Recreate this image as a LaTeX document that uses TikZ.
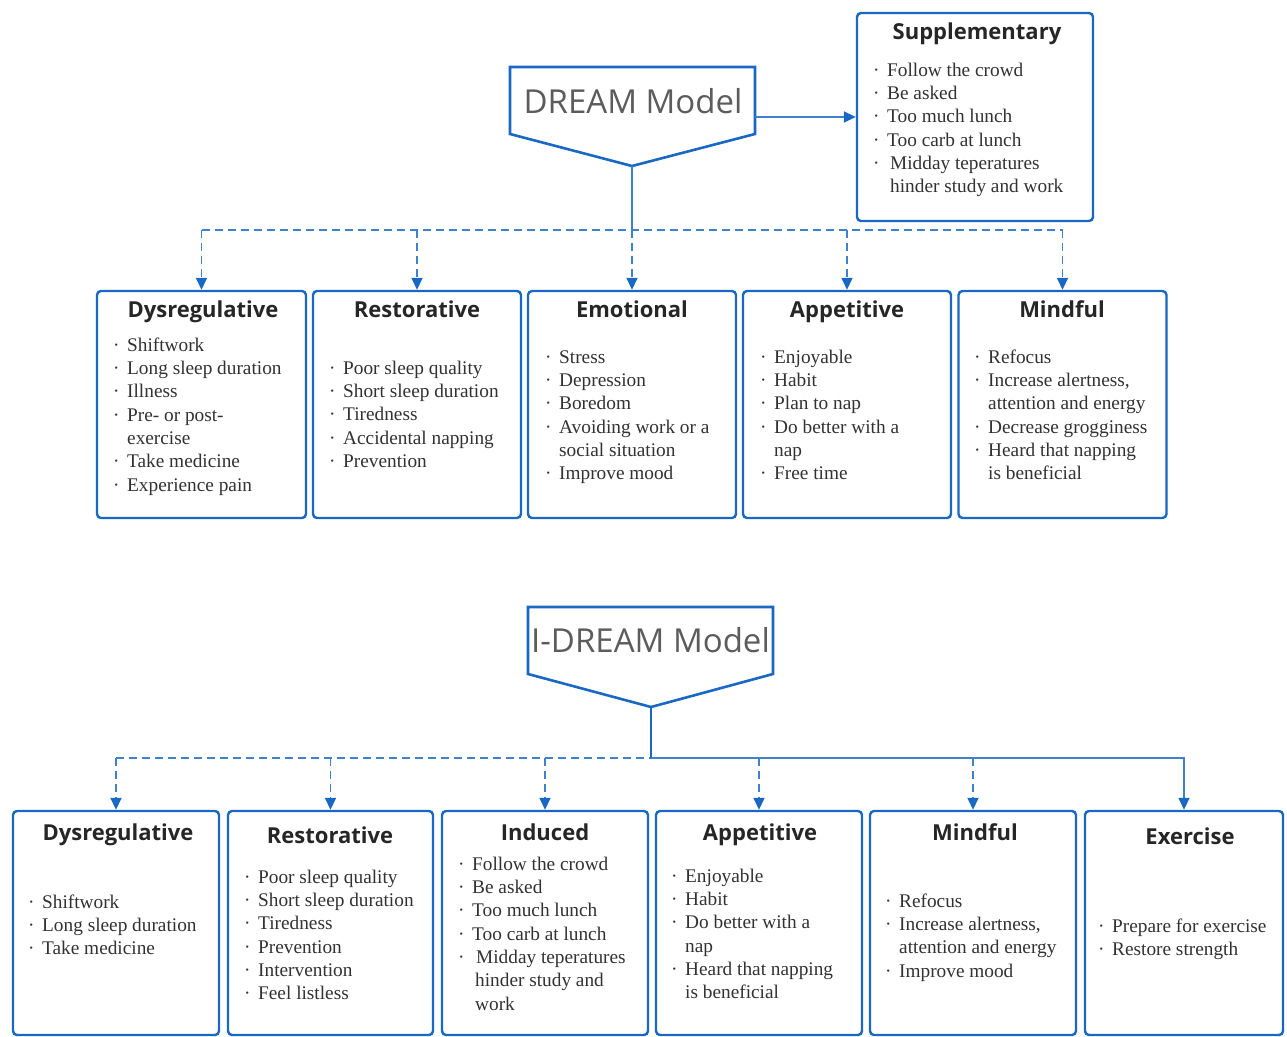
\documentclass[tikz,border=0pt]{standalone}
\usepackage{fontspec}
\setmainfont{Liberation Serif}
\newfontfamily\ttlfont{Open Sans}
\usetikzlibrary{arrows.meta}
\definecolor{blu}{RGB}{24,104,196}
\definecolor{blul}{RGB}{62,130,204}
\definecolor{txtc}{RGB}{50,50,50}
\definecolor{ttlc}{RGB}{38,38,38}
\definecolor{mdlc}{RGB}{92,92,92}
\newcommand\bu{\makebox[14pt][l]{·}}
\newcommand\cn{\hspace*{14pt}}
\newcommand\fs{\rule{0pt}{14pt}}
\begin{document}
\begin{tikzpicture}[x=1pt,y=-1pt,
 box/.style={draw=blu, line width=2.4pt, rounded corners=4pt, inner sep=0pt, fill=white},
 ttl/.style={font=\ttlfont\bfseries\fontsize{22}{26}\selectfont, text=ttlc, anchor=base, inner sep=0pt},
 itm/.style={font=\fontsize{19.3}{23.33}\selectfont, text=txtc, anchor=north west, align=left, inner sep=0pt},
 mdl/.style={font=\ttlfont\fontsize{33}{40}\selectfont, text=mdlc, anchor=base, inner sep=0pt},
 pent/.style={draw=blu, line width=2.6pt, line join=miter},
 dsh/.style={draw=blul, line width=1.6pt, dash pattern=on 8pt off 5pt},
 sol/.style={draw=blul, line width=1.6pt},
 arr/.style={-{Triangle[width=11pt,length=12pt,color=blu]}},
]
\useasboundingbox (0,0) rectangle (1287,1036);
\fill[white] (0,0) rectangle (1287,1036);

% ---------------- DREAM model ----------------
\draw[pent] (510,67) -- (755,67) -- (755,134) -- (632,166) -- (510,134) -- cycle;
\node[mdl] (dm) at (633,113) {DREAM Model};
\coordinate (dmtip) at (632,166);
\coordinate (dmr) at (755,117);
\coordinate (tj) at (632,230);

\node[box, minimum width=236, minimum height=208] (sup) at (975,117) {};
\node[ttl] (supt) at (977,39) {Supplementary};
\node[itm] (supi) at (873,62) {\fs\bu Follow the crowd\\ \bu Be asked\\ \bu Too much lunch\\ \bu Too carb at lunch\\ \bu\hspace*{3pt}Midday teperatures\\ \cn\hspace*{3pt}hinder study and work};
\draw[sol, arr] (dmr) -- (sup.west);

\node[box, minimum width=209, minimum height=227] (d1) at (201.5,404.5) {};
\node[box, minimum width=208, minimum height=227] (r1) at (417,404.5) {};
\node[box, minimum width=208, minimum height=227] (e1) at (632,404.5) {};
\node[box, minimum width=208, minimum height=227] (a1) at (847,404.5) {};
\node[box, minimum width=208, minimum height=227] (m1) at (1062.5,404.5) {};

\draw[sol] (dmtip) -- (tj);
\draw[dsh] (d1.north |- tj) -- (m1.north |- tj);
\foreach \b in {d1,r1,e1,a1,m1}{
  \draw[dsh, arr] (\b.north |- tj) -- (\b.north);
}

\node[ttl] (d1t) at (203,317) {Dysregulative};
\node[ttl] (r1t) at (417,317) {Restorative};
\node[ttl] (e1t) at (632,317) {Emotional};
\node[ttl] (a1t) at (847,317) {Appetitive};
\node[ttl] (m1t) at (1062,317) {Mindful};

\node[itm] (d1i) at (113,337) {\fs\bu Shiftwork\\ \bu Long sleep duration\\ \bu Illness\\ \bu Pre- or post-\\ \cn exercise\\ \bu Take medicine\\ \bu Experience pain};
\node[itm] (r1i) at (329,360) {\fs\bu Poor sleep quality\\ \bu Short sleep duration\\ \bu Tiredness\\ \bu Accidental napping\\ \bu Prevention};
\node[itm] (e1i) at (545,349) {\fs\bu Stress\\ \bu Depression\\ \bu Boredom\\ \bu Avoiding work or a\\ \cn social situation\\ \bu Improve mood};
\node[itm] (a1i) at (760,349) {\fs\bu Enjoyable\\ \bu Habit\\ \bu Plan to nap\\ \bu Do better with a\\ \cn nap\\ \bu Free time};
\node[itm] (m1i) at (974,349) {\fs\bu Refocus\\ \bu Increase alertness,\\ \cn attention and energy\\ \bu Decrease grogginess\\ \bu Heard that napping\\ \cn is beneficial};

% ---------------- I-DREAM model ----------------
\draw[pent] (528,607) -- (773,607) -- (773,674) -- (651,707) -- (528,674) -- cycle;
\node[mdl] (im) at (650.5,652) {I-DREAM Model};
\coordinate (imtip) at (651,707);
\coordinate (bj) at (651,758);

\node[box, minimum width=206, minimum height=224] (bd) at (116,923) {};
\node[box, minimum width=205, minimum height=224] (br) at (330.5,923) {};
\node[box, minimum width=206, minimum height=224] (bi) at (545,923) {};
\node[box, minimum width=206, minimum height=224] (ba) at (759,923) {};
\node[box, minimum width=206, minimum height=224] (bm) at (973,923) {};
\node[box, minimum width=198, minimum height=224] (bx) at (1184,923) {};

\draw[dsh] (bd.north |- bj) -- (bj);
\draw[draw=blu, line width=2pt] (imtip) -- (bj);
\draw[sol, arr] (bj) -- (bx.north |- bj) -- (bx.north);
\foreach \b in {bd,br,bi,ba,bm}{
  \draw[dsh, arr] (\b.north |- bj) -- (\b.north);
}

\node[ttl] (bdt) at (118,840) {Dysregulative};
\node[ttl] (brt) at (330,843) {Restorative};
\node[ttl] (bit) at (545,840) {Induced};
\node[ttl] (bat) at (760,840) {Appetitive};
\node[ttl] (bmt) at (975,840) {Mindful};
\node[ttl] (bxt) at (1190,844) {Exercise};

\node[itm] (bdi) at (28,894) {\fs\bu Shiftwork\\ \bu Long sleep duration\\ \bu Take medicine};
\node[itm] (bri) at (244,869) {\fs\bu Poor sleep quality\\ \bu Short sleep duration\\ \bu Tiredness\\ \bu Prevention\\ \bu Intervention\\ \bu Feel listless};
\node[itm] (bii) at (458,856) {\fs\bu Follow the crowd\\ \bu Be asked\\ \bu Too much lunch\\ \bu Too carb at lunch\\ \bu\hspace*{4pt}Midday teperatures\\ \cn\hspace*{3pt}hinder study and\\ \cn\hspace*{3pt}work};
\node[itm] (bai) at (671,868) {\fs\bu Enjoyable\\ \bu Habit\\ \bu Do better with a\\ \cn nap\\ \bu Heard that napping\\ \cn is beneficial};
\node[itm] (bmi) at (885,893) {\fs\bu Refocus\\ \bu Increase alertness,\\ \cn attention and energy\\ \bu Improve mood};
\node[itm] (bxi) at (1098,918) {\fs\bu Prepare for exercise\\ \bu Restore strength};
\end{tikzpicture}
\end{document}
